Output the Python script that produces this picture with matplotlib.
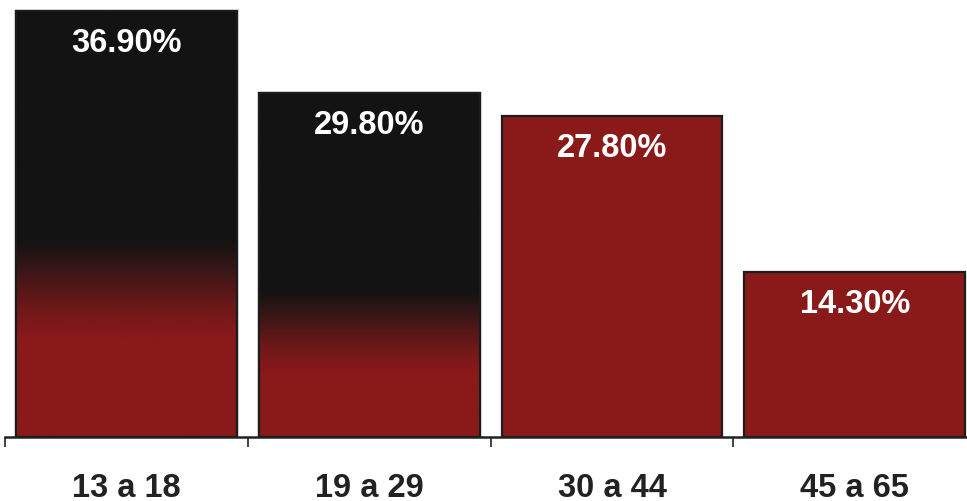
import matplotlib
matplotlib.use("Agg")
import matplotlib.pyplot as plt
from matplotlib.colors import LinearSegmentedColormap
import numpy as np

# --- Data ---
groups = ["13 a 18", "19 a 29", "30 a 44", "45 a 65"]
shares = [36.9, 29.8, 27.8, 14.3]

# --- Style ---
red = "#8a1919"
dark = "#131313"
edge = "#1c1c1c"
# (y where the dark part fades out, y where it is fully red) per bar, None = flat red
fades = [(17.0, 8.5), (12.6, 5.6), None, None]

plt.rcParams["font.family"] = ["Liberation Sans", "DejaVu Sans"]

fig = plt.figure(figsize=(9.67, 5.02), dpi=100)
ax = fig.add_axes([5 / 967, 64 / 502, 962 / 967, 438 / 502])

x = np.arange(len(groups))
bars = ax.bar(x, shares, width=0.91, color=red, edgecolor=edge,
              linewidth=1.6, zorder=2)

# dark-to-red shading inside the first two bars
cmap = LinearSegmentedColormap.from_list(
    "fade", [(0, red), (0.35, "#6a1819"), (0.7, "#3a1616"), (1, dark)])
for bar, fade in zip(bars, fades):
    if fade is None:
        continue
    top_y, low_y = fade
    h = bar.get_height()
    x0 = bar.get_x()
    x1 = x0 + bar.get_width()
    ys = np.linspace(0, h, 300)
    t = np.clip((ys - low_y) / (top_y - low_y), 0, 1)
    img = cmap(t)[:, None, :]
    im = ax.imshow(img, extent=(x0, x1, 0, h), origin="lower",
                   aspect="auto", zorder=2.5, interpolation="bilinear")
    im.set_clip_path(bar)
    # redraw the outline on top of the shading
    ax.bar(bar.get_x() + bar.get_width() / 2, h, width=bar.get_width(),
           color="none", edgecolor=edge, linewidth=1.6, zorder=3)

# value labels near the top of each bar
for xi, v in zip(x, shares):
    ax.text(xi, v - 2.75, f"{v:.2f}%", ha="center", va="center",
            color="white", fontsize=23.5, fontweight="bold", zorder=4)

# axes styling
for side in ["top", "right", "left"]:
    ax.spines[side].set_visible(False)
ax.spines["bottom"].set_color("#222222")
ax.spines["bottom"].set_linewidth(1.8)
ax.set_yticks([])

ax.set_xticks(x)
ax.set_xticklabels(groups, fontsize=23.5, fontweight="bold", color="#222222")
ax.tick_params(axis="x", which="major", length=0, pad=25)
ax.set_xticks(np.arange(-0.5, len(groups)), minor=True)
ax.tick_params(axis="x", which="minor", length=7.5, width=1.3,
               color="#333333", direction="out")

# imshow and set_xticks both move the limits, so fix them last
ax.set_xlim(-0.5, -0.5 + 962 / 242.8)
ax.set_ylim(0, 37.94)

fig.savefig("out.png", dpi=100, facecolor="white")
